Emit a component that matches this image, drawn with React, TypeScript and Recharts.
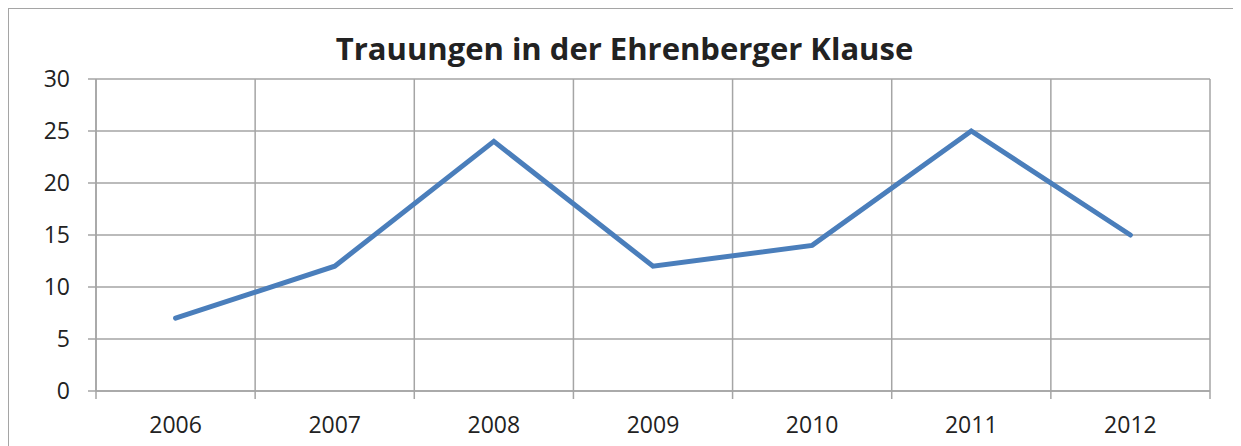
import React from 'react';
import { LineChart, Line, XAxis, YAxis, CartesianGrid } from 'recharts';

const years = ['2006', '2007', '2008', '2009', '2010', '2011', '2012'];
const weddings = [7, 12, 24, 12, 14, 25, 15];
const yTicks = [0, 5, 10, 15, 20, 25, 30];
const bandEdges = [0, 1, 2, 3, 4, 5, 6, 7];

// pos = middle of each category band on a 0..7 scale
const data = years.map((y, i) => ({ year: y, value: weddings[i], pos: i + 0.5 }));

const gray = '#a5a5a5';
const font = '"Open Sans", "Noto Sans", sans-serif';

function App() {
  return (
    <div
      style={{
        position: 'relative',
        width: 1231,
        height: 445,
        border: `1px solid ${gray}`,
        overflow: 'hidden',
        fontFamily: font,
      }}
    >
      <div
        style={{
          position: 'absolute',
          top: 24,
          left: 0,
          width: '100%',
          textAlign: 'center',
          fontSize: 31,
          lineHeight: '31px',
          fontWeight: 700,
          color: '#222',
        }}
      >
        Trauungen in der Ehrenberger Klause
      </div>
      <LineChart
        width={1231}
        height={445}
        data={data}
        margin={{ top: 70, right: 30, bottom: 5, left: 0 }}
      >
        <CartesianGrid stroke={gray} strokeWidth={1.5} />
        <XAxis
          dataKey="pos"
          type="number"
          domain={[0, 7]}
          ticks={bandEdges}
          tickFormatter={() => ''}
          tickSize={8}
          height={8}
          interval={0}
          stroke={gray}
          strokeWidth={1.5}
          allowDataOverflow
        />
        <XAxis
          xAxisId="lab"
          dataKey="year"
          scale="band"
          axisLine={false}
          tickLine={false}
          tickSize={0}
          tickMargin={18}
          height={50}
          tick={{ fill: '#222', fontSize: 23, fontFamily: font }}
        />
        <YAxis
          domain={[0, 30]}
          ticks={yTicks}
          width={87}
          tickSize={8}
          tickMargin={18}
          stroke={gray}
          strokeWidth={1.5}
          tick={{ fill: '#222', fontSize: 23, fontFamily: font }}
        />
        <Line
          dataKey="value"
          stroke="#4a7ebb"
          strokeWidth={5}
          strokeLinecap="round"
          strokeLinejoin="miter"
          dot={false}
          isAnimationActive={false}
        />
      </LineChart>
    </div>
  );
}

export default App;
